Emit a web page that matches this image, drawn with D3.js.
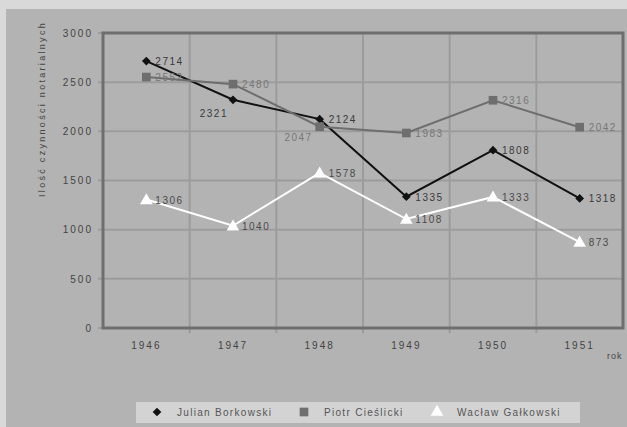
<!DOCTYPE html>
<html><head><meta charset="utf-8">
<script src="https://cdn.jsdelivr.net/npm/d3@7"></script>
<style>html,body{margin:0;padding:0;background:#b3b3b3;}svg{display:block;}</style>
</head><body>
<svg id="c" width="627" height="427"></svg>
<script>
const years = ["1946","1947","1948","1949","1950","1951"];
const julian = [2714, 2321, 2124, 1335, 1808, 1318];
const piotr = [2552, 2480, 2047, 1983, 2316, 2042];
const waclaw = [1306, 1040, 1578, 1108, 1333, 873];
const yTicks = [0, 500, 1000, 1500, 2000, 2500, 3000];
const seriesNames = ["Julian Borkowski", "Piotr Cieślicki", "Wacław Gałkowski"];
const yTitle = "Ilość czynności notarialnych";
const xTitle = "rok";

const svg = d3.select("#c");
const W = 627, H = 427;
const font = "'Liberation Sans', Arial, sans-serif";
svg.append("rect").attr("width", W).attr("height", H).attr("fill", "#d9d9d9");
svg.append("rect").attr("x", 6).attr("y", 9).attr("width", W - 6).attr("height", H - 9).attr("fill", "#b3b3b3");

const L = 103, R = 623, T = 33, B = 328;
const x = d3.scaleBand().domain(years).range([L, R]).padding(0);
const y = d3.scaleLinear().domain([0, 3000]).range([B, T]);
const cx = d => x(d) + x.bandwidth() / 2;

// horizontal gridlines + tick marks
yTicks.forEach(t => {
  svg.append("line").attr("x1", L - 5).attr("x2", R).attr("y1", y(t)).attr("y2", y(t))
    .attr("stroke", "#9c9c9c").attr("stroke-width", 2);
});
// vertical gridlines at band boundaries
years.slice(1).forEach(yr => {
  svg.append("line").attr("x1", x(yr)).attr("x2", x(yr)).attr("y1", T).attr("y2", B + 5)
    .attr("stroke", "#9c9c9c").attr("stroke-width", 2);
});
// plot border
svg.append("rect").attr("x", L).attr("y", T).attr("width", R - L).attr("height", B - T)
  .attr("fill", "none").attr("stroke", "#6e6e6e").attr("stroke-width", 3);

// axes labels
const yAxis = d3.axisLeft(y).tickValues(yTicks).tickFormat(d3.format("d")).tickSize(0).tickPadding(10);
const ga = svg.append("g").attr("transform", `translate(${L},0)`).call(yAxis);
ga.select(".domain").remove();
ga.selectAll("text").attr("font-family", font).attr("font-size", 10).attr("fill", "#444")
  .style("letter-spacing", "2px");
const xAxis = d3.axisBottom(x).tickSize(0).tickPadding(14);
const gx = svg.append("g").attr("transform", `translate(0,${B})`).call(xAxis);
gx.select(".domain").remove();
gx.selectAll("text").attr("font-family", font).attr("font-size", 10).attr("fill", "#444")
  .style("letter-spacing", "2px");

svg.append("text").attr("transform", "translate(45,109) rotate(-90)").attr("text-anchor", "middle")
  .attr("font-family", font).attr("font-size", 9).attr("fill", "#444").style("letter-spacing", "2.3px")
  .text(yTitle);
svg.append("text").attr("x", 607).attr("y", 359).attr("font-family", font).attr("font-size", 9)
  .attr("fill", "#444").style("letter-spacing", "1px").text(xTitle);

const series = [
  {vals: julian, color: "#111", lbl: "#3a3a3a", shape: d3.symbolSquare, size: 38, rot: 45, w: 2},
  {vals: piotr, color: "#6e6e6e", lbl: "#777", shape: d3.symbolSquare, size: 75, rot: 0, w: 2},
  {vals: waclaw, color: "#ffffff", lbl: "#4a4a4a", shape: d3.symbolTriangle, size: 70, rot: 0, w: 2}
];
// special label placements (series index, point index) -> [dx, dy, anchor]
const place = {"0-1": [-5, 17, "end"], "1-2": [-7, 14, "end"]};

const line = d3.line().x((d, i) => cx(years[i])).y(d => y(d));
series.forEach(s => {
  svg.append("path").datum(s.vals).attr("d", line).attr("fill", "none")
    .attr("stroke", s.color).attr("stroke-width", s.w);
});
series.forEach((s, si) => {
  s.vals.forEach((v, i) => {
    svg.append("path").attr("d", d3.symbol().type(s.shape).size(s.size)())
      .attr("transform", `translate(${cx(years[i])},${y(v) + (si === 2 ? 1 : 0)}) rotate(${s.rot})`).attr("fill", s.color);
    const p = place[si + "-" + i] || [9, 4, "start"];
    svg.append("text").attr("x", cx(years[i]) + p[0]).attr("y", y(v) + p[1]).attr("text-anchor", p[2])
      .attr("font-family", font).attr("font-size", 10).attr("fill", s.lbl)
      .style("letter-spacing", "1.5px").text(v);
  });
});

// legend
svg.append("rect").attr("x", 136).attr("y", 402).attr("width", 444).attr("height", 21).attr("fill", "#d3d3d3");
const lx = [157, 304, 437];
series.forEach((s, si) => {
  svg.append("path").attr("d", d3.symbol().type(s.shape).size(s.size)())
    .attr("transform", `translate(${lx[si]},412) rotate(${s.rot})`).attr("fill", s.color);
  svg.append("text").attr("x", lx[si] + 20).attr("y", 416).attr("font-family", font).attr("font-size", 10)
    .attr("fill", "#555").style("letter-spacing", "1.3px").text(seriesNames[si]);
});
</script>
</body></html>
